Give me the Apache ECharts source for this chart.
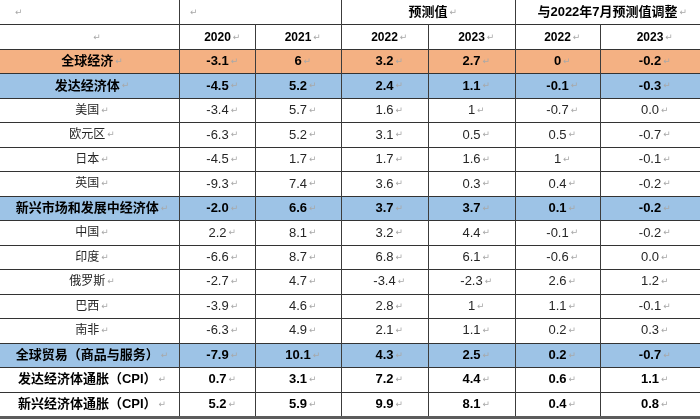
<!DOCTYPE html>
<html><head><meta charset="utf-8">
<script src="https://cdn.jsdelivr.net/npm/echarts@6/dist/echarts.min.js"></script>
<style>html,body{margin:0;padding:0;background:#fff}#c{width:700px;height:420px}</style>
</head><body><div id="c"></div>
<script>
// ---- data ----
const categories = ['全球经济','发达经济体','美国','欧元区','日本','英国','新兴市场和发展中经济体','中国','印度','俄罗斯','巴西','南非','全球贸易（商品与服务）','发达经济体通胀（CPI）','新兴经济体通胀（CPI）'];
const actual2020   = ['-3.1','-4.5','-3.4','-6.3','-4.5','-9.3','-2.0','2.2','-6.6','-2.7','-3.9','-6.3','-7.9','0.7','5.2'];
const actual2021   = ['6','5.2','5.7','5.2','1.7','7.4','6.6','8.1','8.7','4.7','4.6','4.9','10.1','3.1','5.9'];
const forecast2022 = ['3.2','2.4','1.6','3.1','1.7','3.6','3.7','3.2','6.8','-3.4','2.8','2.1','4.3','7.2','9.9'];
const forecast2023 = ['2.7','1.1','1','0.5','1.6','0.3','3.7','4.4','6.1','-2.3','1','1.1','2.5','4.4','8.1'];
const revision2022 = ['0','-0.1','-0.7','0.5','1','0.4','0.1','-0.1','-0.6','2.6','1.1','0.2','0.2','0.6','0.4'];
const revision2023 = ['-0.2','-0.3','0.0','-0.7','-0.1','-0.2','-0.2','-0.2','0.0','1.2','-0.1','0.3','-0.7','1.1','0.8'];
const yearLabels   = ['2020','2021','2022','2023','2022','2023'];
const groupLabels  = ['预测值','与2022年7月预测值调整'];

// ---- layout / style config ----
const colEdges = [0,180,255,341,428,515,600,700];
const rowFill = {0:'#F4B183',1:'#9DC3E6',6:'#9DC3E6',12:'#9DC3E6'};
const boldRows = [0,1,6,12,13,14];
const FONT = '"Liberation Sans","Noto Sans CJK SC",sans-serif';

const cells = [];
cells.push({c0:0,c1:1,row:0,text:'',align:'left',pad:13});
cells.push({c0:1,c1:3,row:0,text:'',align:'left',pad:8});
cells.push({c0:3,c1:5,row:0,text:groupLabels[0],bold:true,size:13});
cells.push({c0:5,c1:7,row:0,text:groupLabels[1],bold:true,size:13});
cells.push({c0:0,c1:1,row:1,text:'',shift:6});
yearLabels.forEach((y,i)=>cells.push({c0:i+1,c1:i+2,row:1,text:y,bold:true,size:12}));
const valueCols = [actual2020, actual2021, forecast2022, forecast2023, revision2022, revision2023];
categories.forEach((name,r)=>{
  const row = r+2, bold = boldRows.includes(r), fill = rowFill[r];
  cells.push({c0:0,c1:1,row,text:name,bold,fill,size:bold?13:12,label:true});
  valueCols.forEach((arr,i)=>cells.push({c0:i+1,c1:i+2,row,text:arr[r],bold,fill,size:13}));
});
const lastRow = categories.length + 1;

function renderItem(params, api){
  const cell = cells[params.dataIndex];
  const p0 = api.coord([api.value(0), api.value(2)]);
  const p1 = api.coord([api.value(1), api.value(2)]);
  const bh = api.size([0,1])[1];
  const x0 = p0[0], x1 = p1[0], yc = p0[1];
  const yt = yc - bh/2, yb = yc + bh/2;
  const ry0 = Math.round(yt), ry1 = Math.round(yb);
  const children = [];
  if (cell.fill) children.push({type:'rect', z2:0, shape:{x:x0,y:ry0,width:x1-x0,height:ry1-ry0+1}, style:{fill:cell.fill}});
  if (cell.row === lastRow) {
    children.push({type:'line', z2:12, shape:{x1:x0,y1:ry1+1.5,x2:x1,y2:ry1+1.5}, style:{stroke:'#5c5c5c',lineWidth:3}});
  } else {
    children.push({type:'line', z2:10, shape:{x1:x0,y1:ry1+0.5,x2:x1,y2:ry1+0.5}, style:{stroke:'#333',lineWidth:1}});
  }
  if (x1 < 699) {
    const vx = Math.floor(x1)+0.5;
    children.push({type:'line', z2:11, shape:{x1:vx,y1:ry0,x2:vx,y2:ry1+1}, style:{stroke:'#3c3c3c',lineWidth:1}});
  }
  const weight = cell.bold ? 'bold' : 'normal';
  const color = cell.bold ? '#000' : '#262626';
  const rich = {
    t:{fontFamily:FONT, fontSize:cell.size||13, fontWeight:weight, fill:color},
    r:{fontFamily:'DejaVu Sans', fontSize:9, fill:'#a8a8a8', padding:[0,0,0,2]},
    p:{fontFamily:'DejaVu Sans', fontSize:9, fill:'rgba(0,0,0,0)', padding:[0,2,0,0]}
  };
  let txt, tx, align;
  if (cell.align === 'left') {
    txt = (cell.text ? '{t|'+cell.text+'}' : '') + '{r|↵}';
    tx = x0 + cell.pad; align = 'left';
  } else if (!cell.text) {
    txt = '{r|↵}'; tx = (x0+x1)/2 + (cell.shift||0); align = 'center';
  } else {
    txt = (cell.label ? '' : '{p|↵}') + '{t|'+cell.text+'}{r|↵}';
    tx = (x0+x1)/2 + (cell.label ? 2 : 0); align = 'center';
  }
  children.push({type:'text', z2:20, style:{text:txt, x:tx, y:yc+0.5, align:align, verticalAlign:'middle', rich:rich}});
  return {type:'group', children};
}

const chart = echarts.init(document.getElementById('c'), null, {renderer:'canvas'});
chart.setOption({
  animation:false,
  backgroundColor:'#fff',
  grid:{left:0,right:0,top:0,height:416,containLabel:false},
  xAxis:{type:'value',min:0,max:700,show:false},
  yAxis:{type:'category',inverse:true,show:false,data:cells.filter(c=>c.c0===0).map((c,i)=>'r'+i)},
  series:[{
    type:'custom',
    renderItem,
    encode:{x:[0,1],y:2},
    data:cells.map(c=>[colEdges[c.c0], colEdges[c.c1], c.row]),
    clip:false
  }]
});
</script>
</body></html>
